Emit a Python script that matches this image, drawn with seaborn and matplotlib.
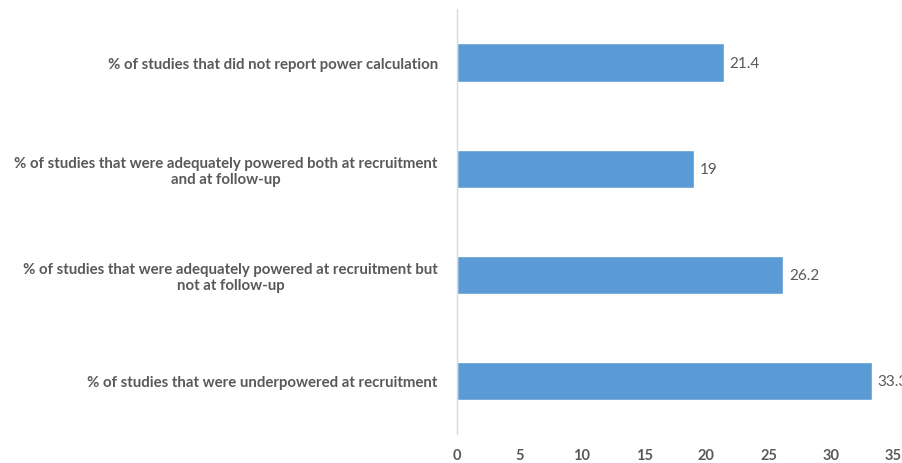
import matplotlib
matplotlib.use("Agg")
import matplotlib.pyplot as plt
import seaborn as sns
import pandas as pd

categories = [
    "% of studies that did not report power calculation",
    "% of studies that were adequately powered both at recruitment\nand at follow-up",
    "% of studies that were adequately powered at recruitment but\nnot at follow-up",
    "% of studies that were underpowered at recruitment",
]
values = [21.4, 19, 26.2, 33.3]
value_labels = ["21.4", "19", "26.2", "33.3"]
xticks = [0, 5, 10, 15, 20, 25, 30, 35]

sns.set_style("white")
plt.rcParams["font.family"] = ["Lato", "DejaVu Sans"]

df = pd.DataFrame({"category": categories, "value": values})

fig = plt.figure(figsize=(9.02, 4.64), dpi=100)
ax = fig.add_axes([0.507, 0.0625, 0.483, 0.915])

sns.barplot(data=df, y="category", x="value", order=categories, orient="h",
            color="#5B9BD5", saturation=1, width=0.36, ax=ax)

ax.set_xlim(0, 35)
ax.set_xticks(xticks)
ax.set_xticklabels([str(t) for t in xticks], fontsize=10.5, fontweight="bold", color="#595959")
ax.set_xlabel("")
ax.set_ylabel("")
ax.tick_params(axis="y", length=0, pad=14)
ax.tick_params(axis="x", length=0, pad=10)
for lbl in ax.get_yticklabels():
    lbl.set_fontsize(10.8)
    lbl.set_fontweight("bold")
    lbl.set_color("#595959")
    lbl.set_horizontalalignment("right")
    lbl.set_multialignment("center")

for s in ["top", "right", "bottom"]:
    ax.spines[s].set_visible(False)
ax.spines["left"].set_color("#d9d9d9")
ax.spines["left"].set_linewidth(1)

ax.bar_label(ax.containers[0], labels=value_labels, padding=4, fontsize=11, color="#595959")

fig.savefig("out.png", dpi=100)
